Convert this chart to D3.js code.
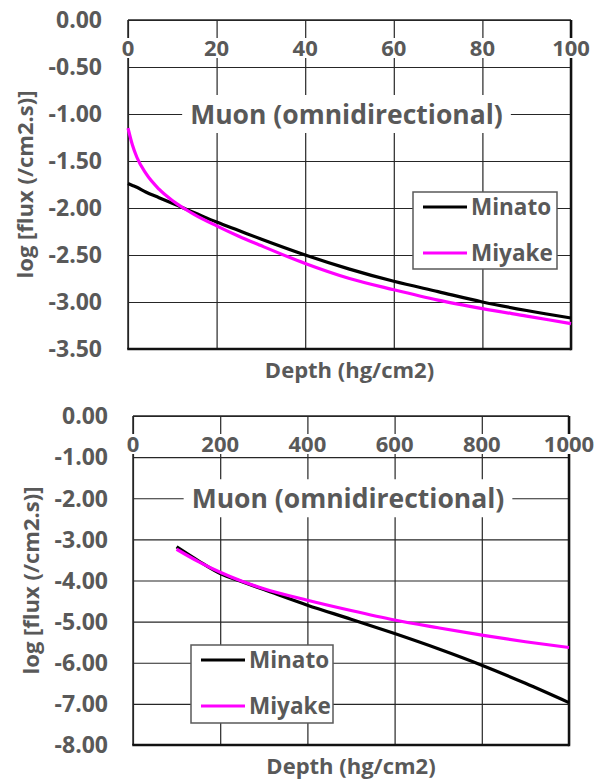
<!DOCTYPE html>
<html>
<head>
<meta charset="utf-8">
<script src="https://cdn.jsdelivr.net/npm/d3@7"></script>
<style>
body { margin: 0; background: #fff; }
svg text { font-family: "Open Sans", sans-serif; font-weight: 700; fill: #595959; }
</style>
</head>
<body>
<svg id="chart" width="598" height="780"></svg>
<script>
// upper panel: 0 - 100 hg/cm2
const topDepth  = [0, 1, 2, 4, 7, 10, 12.5, 15, 20, 25, 30, 40, 50, 60, 70, 80, 90, 100];
const topMinato = [-1.74, -1.76, -1.78, -1.83, -1.89, -1.95, -2.00, -2.05, -2.15, -2.24, -2.33, -2.50, -2.65, -2.78, -2.89, -3.00, -3.09, -3.17];
const topMiyake = [-1.15, -1.33, -1.46, -1.63, -1.80, -1.92, -2.00, -2.07, -2.19, -2.30, -2.40, -2.59, -2.75, -2.87, -2.98, -3.07, -3.15, -3.23];
const topXTicks = [0, 20, 40, 60, 80, 100];
const topYTicks = [0, -0.5, -1, -1.5, -2, -2.5, -3, -3.5];

// lower panel: 0 - 1000 hg/cm2
const botDepth  = [100, 150, 200, 250, 300, 400, 500, 600, 700, 800, 900, 1000];
const botMinato = [-3.18, -3.52, -3.83, -4.03, -4.22, -4.60, -4.94, -5.29, -5.66, -6.06, -6.50, -6.97];
const botMiyake = [-3.24, -3.54, -3.80, -4.02, -4.20, -4.48, -4.73, -4.96, -5.15, -5.33, -5.49, -5.63];
const botXTicks = [0, 200, 400, 600, 800, 1000];
const botYTicks = [0, -1, -2, -3, -4, -5, -6, -7, -8];

const seriesNames = ["Minato", "Miyake"];
const seriesColors = ["#000000", "#ff00ff"];
const titleText = "Muon (omnidirectional)";
const xTitle = "Depth (hg/cm2)";
const yTitle = "log [flux (/cm2.s)]";

const svg = d3.select("#chart");
const gridColor = "#262626";

function drawPanel(cfg) {
    const g = svg.append("g");
    const x = d3.scaleLinear()
        .domain(d3.extent(cfg.xTicks))
        .range([cfg.left, cfg.right]);
    const y = d3.scaleLinear()
        .domain(d3.extent(cfg.yTicks))
        .range([cfg.bottom, cfg.top]);
    const w = cfg.right - cfg.left, h = cfg.bottom - cfg.top;

    // gridlines
    g.append("g")
        .attr("transform", "translate(" + cfg.left + ",0)")
        .call(d3.axisLeft(y).tickValues(cfg.yTicks).tickSize(-w).tickFormat(""))
        .call(a => a.select(".domain").remove())
        .selectAll("line").attr("stroke", gridColor).attr("stroke-width", 1.2);
    g.append("g")
        .attr("transform", "translate(0," + cfg.top + ")")
        .call(d3.axisBottom(x).tickValues(cfg.xTicks).tickSize(h).tickFormat(""))
        .call(a => a.select(".domain").remove())
        .selectAll("line").attr("stroke", gridColor).attr("stroke-width", 1.2);

    // frame
    g.append("line").attr("x1", cfg.left).attr("x2", cfg.right).attr("y1", cfg.top).attr("y2", cfg.top)
        .attr("stroke", gridColor).attr("stroke-width", 1.5);
    g.append("line").attr("x1", cfg.left).attr("x2", cfg.left).attr("y1", cfg.top).attr("y2", cfg.bottom)
        .attr("stroke", gridColor).attr("stroke-width", 1.5);
    g.append("line").attr("x1", cfg.right).attr("x2", cfg.right).attr("y1", cfg.top).attr("y2", cfg.bottom + 1.2)
        .attr("stroke", "#111").attr("stroke-width", 2.5);
    g.append("line").attr("x1", cfg.left - 0.75).attr("x2", cfg.right).attr("y1", cfg.bottom).attr("y2", cfg.bottom)
        .attr("stroke", "#111").attr("stroke-width", 2.5);

    // y tick labels
    g.selectAll(".ylab")
        .data(cfg.yTicks)
        .enter().append("text")
        .attr("class", "ylab")
        .attr("x", cfg.left - cfg.yLabGap)
        .attr("y", d => y(d))
        .attr("dy", "0.36em")
        .attr("text-anchor", "end")
        .style("font-size", "23px")
        .text(d => d.toFixed(2));

    // x tick labels sit on white boxes that cut the gridlines
    const xl = g.selectAll(".xlab")
        .data(cfg.xTicks)
        .enter().append("g")
        .attr("class", "xlab")
        .attr("transform", d => "translate(" + x(d) + "," + (cfg.top + 28) + ")");
    xl.append("text")
        .attr("dy", "0.36em")
        .attr("text-anchor", "middle")
        .style("font-size", "22px")
        .text(d => d);
    xl.each(function () {
        const t = d3.select(this).select("text");
        const b = t.node().getBBox();
        d3.select(this).insert("rect", "text")
            .attr("x", b.x - 1).attr("y", -10)
            .attr("width", b.width + 2).attr("height", 20)
            .attr("fill", "#fff");
    });

    // chart title
    const tg = g.append("g").attr("transform", "translate(" + ((cfg.left + cfg.right) / 2 - 3) + "," + y(cfg.titleAt) + ")");
    const tt = tg.append("text")
        .attr("dy", "0.36em")
        .attr("text-anchor", "middle")
        .style("font-size", "26.5px")
        .text(titleText);
    const tb = tt.node().getBBox();
    tg.insert("rect", "text")
        .attr("x", tb.x - 8).attr("y", -19)
        .attr("width", tb.width + 16).attr("height", 38)
        .attr("fill", "#fff");

    // axis titles
    g.append("text")
        .attr("x", (cfg.left + cfg.right) / 2)
        .attr("y", cfg.bottom + 21)
        .attr("dy", "0.36em")
        .attr("text-anchor", "middle")
        .style("font-size", "22px")
        .text(xTitle);
    g.append("text")
        .attr("transform", "translate(" + cfg.yTitleX + "," + ((cfg.top + cfg.bottom) / 2) + ") rotate(-90)")
        .attr("dy", "0.36em")
        .attr("text-anchor", "middle")
        .style("font-size", "22px")
        .text(yTitle);

    // data lines
    const line = d3.line()
        .x(d => x(d[0]))
        .y(d => y(d[1]))
        .curve(d3.curveMonotoneX);
    [cfg.minato, cfg.miyake].forEach((vals, i) => {
        g.append("path")
            .datum(cfg.depth.map((d, j) => [d, vals[j]]))
            .attr("d", line)
            .attr("fill", "none")
            .attr("stroke", seriesColors[i])
            .attr("stroke-width", 3.2);
    });

    // legend
    const lg = g.append("g").attr("transform", "translate(" + cfg.legend[0] + "," + cfg.legend[1] + ")");
    lg.append("rect")
        .attr("width", cfg.legend[2]).attr("height", cfg.legend[3])
        .attr("fill", "#fff").attr("stroke", "#595959").attr("stroke-width", 1.5);
    seriesNames.forEach((name, i) => {
        const yy = 15 + i * 46;
        lg.append("line")
            .attr("x1", 10).attr("x2", 54).attr("y1", yy).attr("y2", yy)
            .attr("stroke", seriesColors[i]).attr("stroke-width", 3.2);
        lg.append("text")
            .attr("x", 58).attr("y", yy)
            .attr("dy", "0.36em")
            .style("font-size", "22.5px")
            .text(name);
    });
}

drawPanel({
    left: 128, right: 571, top: 20, bottom: 349,
    xTicks: topXTicks, yTicks: topYTicks,
    depth: topDepth, minato: topMinato, miyake: topMiyake,
    titleAt: -1, yLabGap: 26, yTitleX: 25,
    legend: [413, 192, 144, 77]
});

drawPanel({
    left: 133, right: 569, top: 416, bottom: 745,
    xTicks: botXTicks, yTicks: botYTicks,
    depth: botDepth, minato: botMinato, miyake: botMiyake,
    titleAt: -2, yLabGap: 25, yTitleX: 31,
    legend: [191, 645, 142, 78]
});
</script>
</body>
</html>
